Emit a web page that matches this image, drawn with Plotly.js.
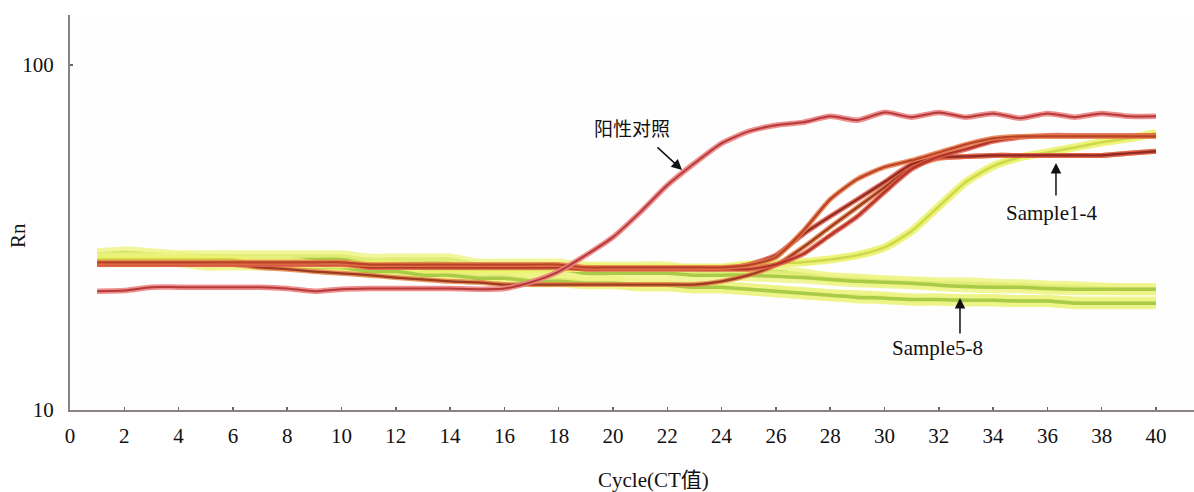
<!DOCTYPE html>
<html>
<head>
<meta charset="utf-8">
<script src="https://cdn.plot.ly/plotly-3.0.1.min.js"></script>
<style>html,body{margin:0;padding:0;background:#fff;}#chart{width:1194px;height:492px;}</style>
</head>
<body>
<div id="chart"></div>
<script>
// Cycle numbers 1..40
const cycles = [1,2,3,4,5,6,7,8,9,10,11,12,13,14,15,16,17,18,19,20,21,22,23,24,25,26,27,28,29,30,31,32,33,34,35,36,37,38,39,40];

// 阳性对照 (positive control)
const positiveControl = [22.1,22.2,22.7,22.7,22.7,22.7,22.7,22.5,22.1,22.4,22.5,22.5,22.5,22.5,22.4,22.5,23.5,25.2,28.1,31.7,37.4,44.8,51.9,59.3,64.2,66.9,68.2,71.0,69.2,72.9,70.6,72.9,70.6,72.4,70.1,72.4,70.6,72.4,71.0,71.0];

// Sample1-4
const sample1 = [26.8,26.8,26.8,26.8,26.8,26.8,26.8,26.8,26.8,26.8,26.4,26.4,26.4,26.4,26.4,26.4,26.4,26.4,25.9,25.9,25.9,25.9,25.9,25.9,26.3,27.7,33.0,40.8,46.7,50.6,52.9,55.8,58.9,61.3,62.1,62.1,62.1,62.1,62.1,62.1];
const sample2 = [26.4,26.4,26.4,26.4,26.4,26.4,26.4,26.4,26.4,26.4,26.1,26.1,26.1,26.1,26.1,26.1,26.1,26.1,25.7,25.7,25.7,25.7,25.7,25.7,26.4,28.1,32.3,36.4,40.8,45.8,51.6,54.0,54.3,54.7,54.7,54.7,54.7,54.7,55.5,56.2];
const sample3 = [26.6,26.6,26.6,26.6,26.6,26.6,26.6,26.6,26.6,26.6,25.9,25.9,25.9,25.9,25.9,25.9,25.9,25.9,25.6,25.6,25.6,25.6,25.6,25.6,25.6,26.4,28.3,32.1,36.4,42.8,49.9,54.3,57.0,60.1,61.7,62.5,62.5,62.5,62.5,62.5];
const sample4 = [26.4,26.4,26.4,26.4,26.4,26.4,25.9,25.6,25.2,24.9,24.6,24.2,23.9,23.6,23.45,23.1,23.1,23.1,23.1,23.1,23.1,23.1,23.1,23.6,24.6,26.3,29.6,33.9,38.7,44.2,50.6,53.6,54.3,54.7,54.7,54.7,54.7,54.7,55.5,56.2];

// late yellow riser
const sampleYellow = [27.3,27.3,27.3,27.3,27.3,27.3,26.4,26.4,26.4,26.4,26.4,26.4,25.6,25.6,25.6,25.6,25.6,25.6,25.9,25.9,25.9,25.9,25.9,25.9,26.4,26.6,26.8,27.3,28.1,29.6,33.0,38.9,45.8,50.9,54.0,55.8,57.7,59.7,61.3,63.4];

// Sample5-8
const sample5 = [28.3,28.6,28.3,27.9,27.9,27.9,27.9,27.9,27.9,27.9,27.3,27.3,27.3,27.3,26.4,26.4,26.4,26.4,25.9,25.9,25.9,25.9,25.2,25.2,25.2,25.2,24.7,24.1,23.9,23.6,23.45,23.3,23.3,23.1,23.0,22.8,22.7,22.5,22.4,22.4];
const sample6 = [27.7,27.7,27.7,27.7,27.3,27.3,27.3,27.3,27.3,27.3,26.6,26.6,26.6,26.6,25.6,25.6,25.6,25.6,24.9,24.9,24.9,24.9,24.6,24.6,24.6,24.4,24.2,23.9,23.6,23.45,23.3,23.0,22.8,22.7,22.7,22.5,22.4,22.4,22.4,22.4];
const sample7 = [27.3,27.3,27.3,27.3,26.8,26.8,26.8,26.8,26.1,26.1,25.6,25.6,24.9,24.9,24.4,24.4,23.9,23.9,23.45,23.45,23.0,23.0,22.7,22.7,22.4,22.1,21.8,21.5,21.4,21.2,20.9,20.9,20.8,20.8,20.7,20.7,20.5,20.5,20.5,20.5];
const sample8 = [27.0,27.0,27.0,27.0,26.4,26.4,26.4,26.4,25.9,25.9,25.2,25.2,24.6,24.6,24.1,24.1,23.6,23.6,23.3,23.3,23.0,23.0,22.7,22.7,22.4,22.1,21.8,21.5,21.2,21.1,20.9,20.9,20.8,20.8,20.7,20.7,20.4,20.4,20.4,20.4];

const xTickVals = [0,2,4,6,8,10,12,14,16,18,20,22,24,26,28,30,32,34,36,38,40];
const yTickVals = [10,100];
const yTickText = ['10','100'];

const traces = [];
function addLine(y, glowColor, glowWidth, coreColor, coreWidth) {
  traces.push({x: cycles, y: y, type: 'scatter', mode: 'lines', line: {color: glowColor, width: glowWidth, shape: 'spline', smoothing: 0.6}, hoverinfo: 'skip', showlegend: false});
  traces.push({x: cycles, y: y, type: 'scatter', mode: 'lines', line: {color: coreColor, width: coreWidth, shape: 'spline', smoothing: 0.6}, hoverinfo: 'skip', showlegend: false});
}
[sample5, sample6, sample7, sample8].forEach(s => addLine(s, 'rgba(238,244,130,0.8)', 12, '#a9cb48', 3.5));
addLine(sampleYellow, 'rgba(236,242,110,0.9)', 8, '#cdd84a', 2.5);
addLine(sample4, 'rgba(228,130,70,0.85)', 5, '#9c3a22', 2.2);
addLine(sample2, 'rgba(222,90,70,0.85)', 5, '#8e2a22', 2.2);
addLine(sample3, 'rgba(225,95,75,0.85)', 5, '#b03428', 2.2);
addLine(sample1, 'rgba(232,125,70,0.85)', 5, '#b8432a', 2.2);
addLine(positiveControl, 'rgba(236,130,130,0.9)', 5.5, '#b53a3a', 2);

const serif = '"Liberation Serif", "Times New Roman", "Noto Sans CJK SC", serif';
const layout = {
  width: 1194, height: 492,
  margin: {l: 70, r: 0, t: 15, b: 82},
  paper_bgcolor: '#ffffff', plot_bgcolor: '#fefefe',
  font: {family: serif, size: 21, color: '#111'},
  xaxis: {
    range: [0, 41.4], tickvals: xTickVals, ticks: 'inside', ticklen: 3, tickcolor: '#666', tickwidth: 1.5,
    showline: true, linecolor: '#8a8280', linewidth: 2, showgrid: false, zeroline: false,
    tickfont: {family: serif, size: 21, color: '#111'}, ticklabelstandoff: 6
  },
  yaxis: {
    type: 'log', range: [1, 2.145], tickvals: yTickVals, ticktext: yTickText, ticks: 'inside', ticklen: 3,
    tickcolor: '#666', tickwidth: 1.5, showline: true, linecolor: '#8a8280', linewidth: 2, showgrid: false, zeroline: false,
    tickfont: {family: serif, size: 21, color: '#111'}, ticklabelstandoff: 10
  },
  annotations: [
    {xref: 'paper', yref: 'paper', x: 0.5187, y: -0.177, text: 'Cycle(CT值)', showarrow: false, xanchor: 'center', yanchor: 'middle', font: {family: serif, size: 21, color: '#111'}},
    {xref: 'paper', yref: 'paper', x: -0.0463, y: 0.443, text: 'Rn', showarrow: false, textangle: -90, xanchor: 'center', yanchor: 'middle', font: {family: serif, size: 21, color: '#111'}},
    {xref: 'paper', yref: 'paper', x: 0.5, y: 0.714, text: '阳性对照', showarrow: false, xanchor: 'center', yanchor: 'middle', font: {family: '"Noto Sans CJK SC", sans-serif', size: 19, color: '#111'}},
    {xref: 'paper', yref: 'paper', x: 0.5445, y: 0.6076, ax: -26, ay: -24, text: '', showarrow: true, arrowhead: 2, arrowsize: 1.4, arrowwidth: 1.5, arrowcolor: '#111'},
    {xref: 'paper', yref: 'paper', x: 0.8728, y: 0.4987, text: 'Sample1-4', showarrow: false, xanchor: 'center', yanchor: 'middle', font: {family: serif, size: 21, color: '#111'}},
    {xref: 'paper', yref: 'paper', x: 0.8772, y: 0.6253, ax: 0, ay: 34, text: '', showarrow: true, arrowhead: 2, arrowsize: 1.4, arrowwidth: 1.5, arrowcolor: '#111'},
    {xref: 'paper', yref: 'paper', x: 0.7714, y: 0.157, text: 'Sample5-8', showarrow: false, xanchor: 'center', yanchor: 'middle', font: {family: serif, size: 21, color: '#111'}},
    {xref: 'paper', yref: 'paper', x: 0.7918, y: 0.2835, ax: 0, ay: 37, text: '', showarrow: true, arrowhead: 2, arrowsize: 1.4, arrowwidth: 1.5, arrowcolor: '#111'}
  ]
};
Plotly.newPlot('chart', traces, layout, {staticPlot: true, displayModeBar: false});
</script>
</body>
</html>
